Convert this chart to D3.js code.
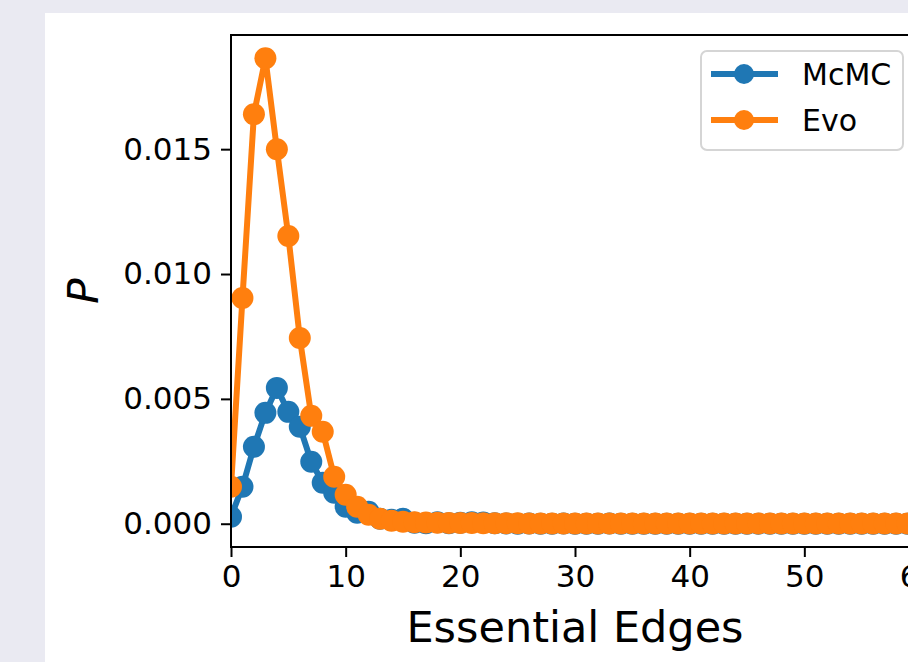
<!DOCTYPE html>
<html>
<head>
<meta charset="utf-8">
<script src="https://cdnjs.cloudflare.com/ajax/libs/d3/7.8.5/d3.min.js"></script>
<style>
  html, body { margin: 0; padding: 0; background: #eaeaf2; }
  svg { display: block; }
</style>
</head>
<body>
<div id="chart"></div>
<script>
const WIDTH = 908;
const HEIGHT = 662;

// P(essential edges)
const mcmc = [0.00028, 0.00148, 0.00308, 0.00444, 0.00544, 0.00448, 0.00388, 0.00248, 0.00164, 0.00124,
              0.00068, 0.00044, 0.00048, 0.00020, 0.00016, 0.00020, 0.00004, 0.00002, 0.00006, 0.00002,
              0.00004, 0.00006, 0.00005, 0.00002, 0.00001, 0.00000, 0.00001, 0.00000, 0.00000, 0.00001,
              0.00000, 0.00000, 0.00000, 0.00001, 0.00000, 0.00000, 0.00000, 0.00000, 0.00000, 0.00000,
              0.00000, 0.00000, 0.00000, 0.00000, 0.00000, 0.00000, 0.00000, 0.00000, 0.00000, 0.00000,
              0.00000, 0.00000, 0.00000, 0.00000, 0.00000, 0.00000, 0.00000, 0.00000, 0.00000, 0.00000,
              0.00000];
const evo = [0.00148, 0.00904, 0.01640, 0.01864, 0.01500, 0.01152, 0.00744, 0.00432, 0.00368, 0.00188,
             0.00116, 0.00068, 0.00036, 0.00020, 0.00012, 0.00008, 0.00006, 0.00005, 0.00004, 0.00003,
             0.00003, 0.00003, 0.00002, 0.00002, 0.00002, 0.00002, 0.00001, 0.00001, 0.00001, 0.00001,
             0.00001, 0.00001, 0.00001, 0.00001, 0.00001, 0.00001, 0.00001, 0.00001, 0.00001, 0.00001,
             0.00001, 0.00001, 0.00001, 0.00001, 0.00001, 0.00001, 0.00001, 0.00001, 0.00001, 0.00001,
             0.00001, 0.00001, 0.00001, 0.00001, 0.00001, 0.00001, 0.00001, 0.00001, 0.00001, 0.00001,
             0.00001];
const edges = mcmc.map((d, i) => i);

const seriesNames = ['McMC', 'Evo'];
const COLORS = ['#1f77b4', '#ff7f0e'];
const xTicks = [0, 10, 20, 30, 40, 50, 60];
const yTicks = [0, 0.005, 0.010, 0.015];

const FONT = "'DejaVu Sans', sans-serif";
const plot = { left: 231, top: 35, right: 919, bottom: 547 };

var svg = d3.select("#chart").append("svg")
    .attr("width", WIDTH)
    .attr("height", HEIGHT);

// white figure panel
svg.append("rect")
    .attr("x", 45).attr("y", 13)
    .attr("width", WIDTH).attr("height", HEIGHT)
    .attr("fill", "white");

var xScale = d3.scaleLinear()
    .domain([0, 60])
    .range([plot.left, plot.right]);

// matplotlib-like 5% margins
const yMin = Math.min(d3.min(mcmc), d3.min(evo));
const yMax = Math.max(d3.max(mcmc), d3.max(evo));
const pad = (yMax - yMin) * 0.05;
var yScale = d3.scaleLinear()
    .domain([yMin - pad, yMax + pad])
    .range([plot.bottom, plot.top]);

svg.append("clipPath").attr("id", "clip")
  .append("rect")
    .attr("x", plot.left).attr("y", plot.top)
    .attr("width", plot.right - plot.left)
    .attr("height", plot.bottom - plot.top);

var line = d3.line()
    .x((d, i) => xScale(edges[i]))
    .y(d => yScale(d));

const plotArea = svg.append("g").attr("clip-path", "url(#clip)");

[mcmc, evo].forEach((values, k) => {
    plotArea.append("path")
        .datum(values)
        .attr("fill", "none")
        .attr("stroke", COLORS[k])
        .attr("stroke-width", 6)
        .attr("stroke-linejoin", "round")
        .attr("d", line);

    plotArea.append("g").selectAll("circle")
        .data(values)
        .enter()
        .append("circle")
            .attr("cx", (d, i) => xScale(edges[i]))
            .attr("cy", d => yScale(d))
            .attr("r", 11)
            .attr("fill", COLORS[k]);
});

// axes
var xAxis = svg.append("g")
    .attr("transform", `translate(0,${plot.bottom})`)
    .call(d3.axisBottom(xScale).tickValues(xTicks).tickFormat(d3.format("d"))
        .tickSize(10).tickSizeOuter(0).tickPadding(8));

var yAxis = svg.append("g")
    .attr("transform", `translate(${plot.left},0)`)
    .call(d3.axisLeft(yScale).tickValues(yTicks).tickFormat(d3.format(".3f"))
        .tickSize(10).tickSizeOuter(0).tickPadding(9));

[xAxis, yAxis].forEach(ax => {
    ax.select(".domain").remove();
    ax.selectAll(".tick line").attr("stroke", "black").attr("stroke-width", 2);
    ax.selectAll(".tick text")
        .attr("fill", "black")
        .style("font-family", FONT)
        .style("font-size", "31px");
});

svg.append("rect")
    .attr("x", plot.left).attr("y", plot.top)
    .attr("width", plot.right - plot.left)
    .attr("height", plot.bottom - plot.top)
    .attr("fill", "none")
    .attr("stroke", "black")
    .attr("stroke-width", 2);

// labels
svg.append("text")
    .attr("x", (plot.left + plot.right) / 2)
    .attr("y", 642)
    .attr("text-anchor", "middle")
    .style("font-family", FONT)
    .style("font-size", "43px")
    .text("Essential Edges");

svg.append("text")
    .attr("transform", `translate(98,${(plot.top + plot.bottom) / 2}) rotate(-90)`)
    .attr("text-anchor", "middle")
    .style("font-family", FONT)
    .style("font-size", "42px")
    .style("font-style", "italic")
    .text("P");

// legend
var legendGroup = svg.append("g");

legendGroup.append("rect")
    .attr("x", 701).attr("y", 51)
    .attr("width", 202).attr("height", 99)
    .attr("rx", 6)
    .attr("fill", "white")
    .attr("fill-opacity", 0.8)
    .attr("stroke", "#d5d5d5")
    .attr("stroke-width", 2);

var legendItems = legendGroup.selectAll("g.item")
    .data(seriesNames)
    .enter()
    .append("g")
        .attr("class", "item")
        .attr("transform", (d, i) => `translate(711,${74 + i * 46})`);

legendItems.append("line")
    .attr("x1", 0).attr("x2", 67)
    .attr("stroke", (d, i) => COLORS[i])
    .attr("stroke-width", 6);

legendItems.append("circle")
    .attr("cx", 33).attr("r", 10)
    .attr("fill", (d, i) => COLORS[i]);

legendItems.append("text")
    .attr("x", 91)
    .attr("y", 11)
    .style("font-family", FONT)
    .style("font-size", "30px")
    .text(d => d);
</script>
</body>
</html>
